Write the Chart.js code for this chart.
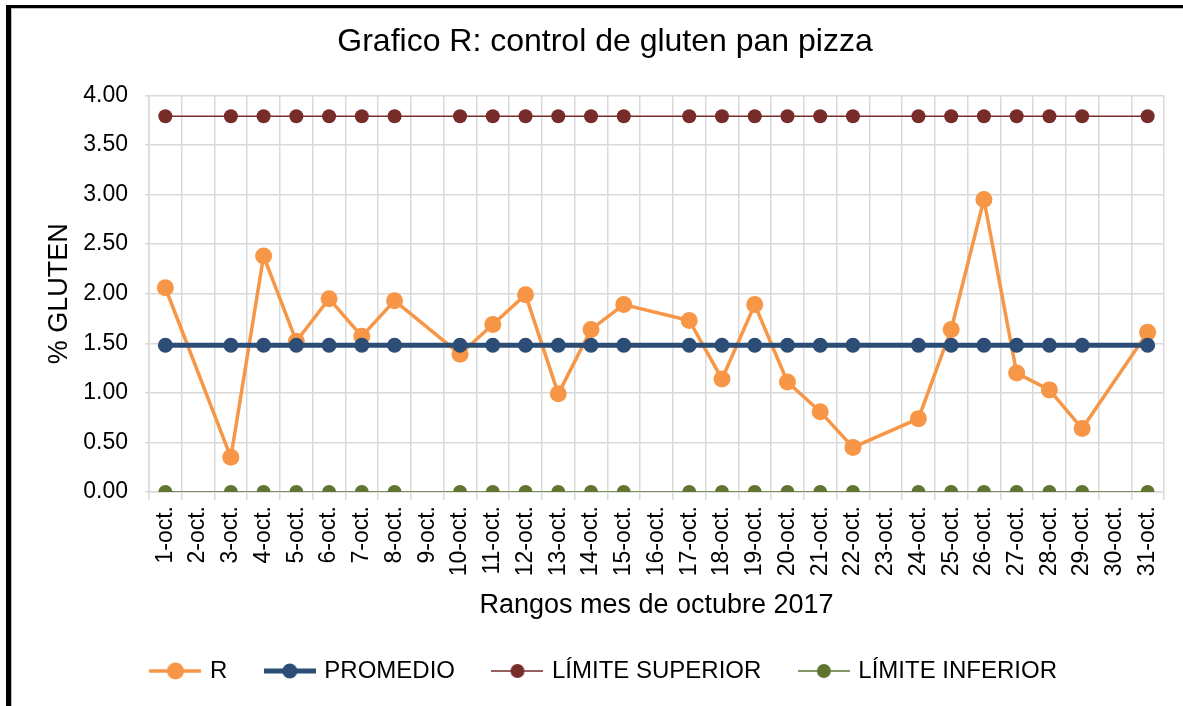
<!DOCTYPE html>
<html lang="es">
<head>
    <meta charset="UTF-8">
    <title>Grafico R: control de gluten pan pizza</title>
    <script src="https://cdn.jsdelivr.net/npm/chart.js"></script>
    <style>
        body {
            margin: 0;
            padding: 0;
            background: #fff;
            overflow: hidden;
        }
        #wrap {
            position: relative;
            width: 1183px;
            height: 706px;
        }
        #frame {
            position: absolute;
            left: 6px;
            top: 5px;
            width: 1300px;
            height: 800px;
            border-left: 5px solid #000;
            border-top: 3px solid #000;
        }
        #frame::after {
            content: "";
            position: absolute;
            left: 0;
            top: 0;
            right: 0;
            bottom: 0;
            border-left: 1px solid #bfbfbf;
            border-top: 1px solid #bfbfbf;
        }
        canvas {
            position: absolute;
            left: 0;
            top: 0;
        }
    </style>
</head>
<body>
    <div id="wrap">
        <div id="frame"></div>
        <canvas id="rChart"></canvas>
    </div>

    <script>
        // dias del mes (domingos sin medicion)
        const dias = ['1-oct.', '2-oct.', '3-oct.', '4-oct.', '5-oct.', '6-oct.', '7-oct.', '8-oct.',
            '9-oct.', '10-oct.', '11-oct.', '12-oct.', '13-oct.', '14-oct.', '15-oct.', '16-oct.',
            '17-oct.', '18-oct.', '19-oct.', '20-oct.', '21-oct.', '22-oct.', '23-oct.', '24-oct.',
            '25-oct.', '26-oct.', '27-oct.', '28-oct.', '29-oct.', '30-oct.', '31-oct.'];

        const valoresR = [2.06, null, 0.35, 2.38, 1.52, 1.95, 1.57, 1.93,
            null, 1.39, 1.69, 1.99, 0.99, 1.64, 1.89, null,
            1.73, 1.14, 1.89, 1.11, 0.81, 0.45, null, 0.74,
            1.64, 2.95, 1.20, 1.03, 0.64, null, 1.61];

        const promedio = [1.48, null, 1.48, 1.48, 1.48, 1.48, 1.48, 1.48,
            null, 1.48, 1.48, 1.48, 1.48, 1.48, 1.48, null,
            1.48, 1.48, 1.48, 1.48, 1.48, 1.48, null, 1.48,
            1.48, 1.48, 1.48, 1.48, 1.48, null, 1.48];

        const limiteSuperior = [3.79, null, 3.79, 3.79, 3.79, 3.79, 3.79, 3.79,
            null, 3.79, 3.79, 3.79, 3.79, 3.79, 3.79, null,
            3.79, 3.79, 3.79, 3.79, 3.79, 3.79, null, 3.79,
            3.79, 3.79, 3.79, 3.79, 3.79, null, 3.79];

        const limiteInferior = [0, null, 0, 0, 0, 0, 0, 0,
            null, 0, 0, 0, 0, 0, 0, null,
            0, 0, 0, 0, 0, 0, null, 0,
            0, 0, 0, 0, 0, null, 0];

        const yTicks = [0, 0.5, 1, 1.5, 2, 2.5, 3, 3.5, 4];

        const fuente = '"Liberation Sans", Arial, sans-serif';
        const gris = '#d9d9d9';

        // marcador de leyenda: linea con punto
        function marcador(color, grosor, radio) {
            const c = document.createElement('canvas');
            c.width = 52;
            c.height = 20;
            const g = c.getContext('2d');
            g.strokeStyle = color;
            g.lineWidth = grosor;
            g.beginPath();
            g.moveTo(0, 10);
            g.lineTo(52, 10);
            g.stroke();
            g.fillStyle = color;
            g.beginPath();
            g.arc(26, 10, radio, 0, Math.PI * 2);
            g.fill();
            return c;
        }

        const series = [
            { label: 'R', data: valoresR, color: '#f79646', width: 3.5, radius: 8.5, order: 4 },
            { label: 'PROMEDIO', data: promedio, color: '#2c4d75', width: 5, radius: 7.5, order: 3 },
            { label: 'LÍMITE SUPERIOR', data: limiteSuperior, color: '#772c2a', width: 1.5, radius: 7, order: 2 },
            { label: 'LÍMITE INFERIOR', data: limiteInferior, color: '#5f7530', width: 1.5, radius: 7, order: 1 }
        ];

        const ctx = document.getElementById('rChart').getContext('2d');
        new Chart(ctx, {
            type: 'line',
            data: {
                labels: dias,
                datasets: series.map(s => ({
                    label: s.label,
                    data: s.data,
                    borderColor: s.color,
                    backgroundColor: s.color,
                    borderWidth: s.width,
                    pointRadius: s.radius,
                    pointHoverRadius: s.radius,
                    pointBackgroundColor: s.color,
                    pointBorderWidth: 0,
                    spanGaps: true,
                    tension: 0,
                    order: s.order
                }))
            },
            options: {
                responsive: true,
                maintainAspectRatio: false,
                animation: false,
                layout: { padding: { left: 46, right: 19, top: 0, bottom: 13 } },
                plugins: {
                    tooltip: { enabled: false },
                    title: {
                        display: true,
                        text: 'Grafico R: control de gluten pan pizza',
                        color: '#000',
                        font: { family: fuente, size: 32, weight: 'normal', lineHeight: 1.2 },
                        padding: { top: 23, bottom: 34 }
                    },
                    legend: {
                        position: 'bottom',
                        labels: {
                            color: '#000',
                            font: { family: fuente, size: 24 },
                            usePointStyle: true,
                            pointStyleWidth: 45,
                            padding: 40,
                            generateLabels: () => series.map((s, i) => ({
                                text: s.label,
                                fillStyle: s.color,
                                strokeStyle: s.color,
                                lineWidth: 0,
                                hidden: false,
                                datasetIndex: i,
                                pointStyle: marcador(s.color, s.width, s.radius)
                            }))
                        }
                    }
                },
                scales: {
                    x: {
                        offset: true,
                        afterFit: scale => { scale.height = 127; },
                        grid: { offset: true, color: gris, lineWidth: 1.5, tickLength: 8, drawTicks: true },
                        border: { color: gris, width: 1.5 },
                        ticks: {
                            color: '#000',
                            font: { family: fuente, size: 23 },
                            minRotation: 90,
                            maxRotation: 90,
                            autoSkip: false,
                            padding: 6
                        },
                        title: {
                            display: true,
                            text: 'Rangos mes de octubre 2017',
                            color: '#000',
                            font: { family: fuente, size: 27, lineHeight: 1 },
                            padding: { top: 0, bottom: 0 }
                        }
                    },
                    y: {
                        min: 0,
                        max: 4,
                        afterFit: scale => { scale.width = 103; },
                        afterBuildTicks: scale => { scale.ticks = yTicks.map(v => ({ value: v })); },
                        grid: { color: gris, lineWidth: 1.5, tickLength: 4 },
                        border: { color: gris, width: 1.5 },
                        ticks: {
                            color: '#000',
                            font: { family: fuente, size: 23 },
                            padding: 17,
                            callback: v => Number(v).toFixed(2)
                        },
                        title: {
                            display: true,
                            text: '% GLUTEN',
                            color: '#000',
                            font: { family: fuente, size: 27, lineHeight: 1 },
                            padding: { top: 0, bottom: 0 }
                        }
                    }
                }
            }
        });
    </script>
</body>
</html>
